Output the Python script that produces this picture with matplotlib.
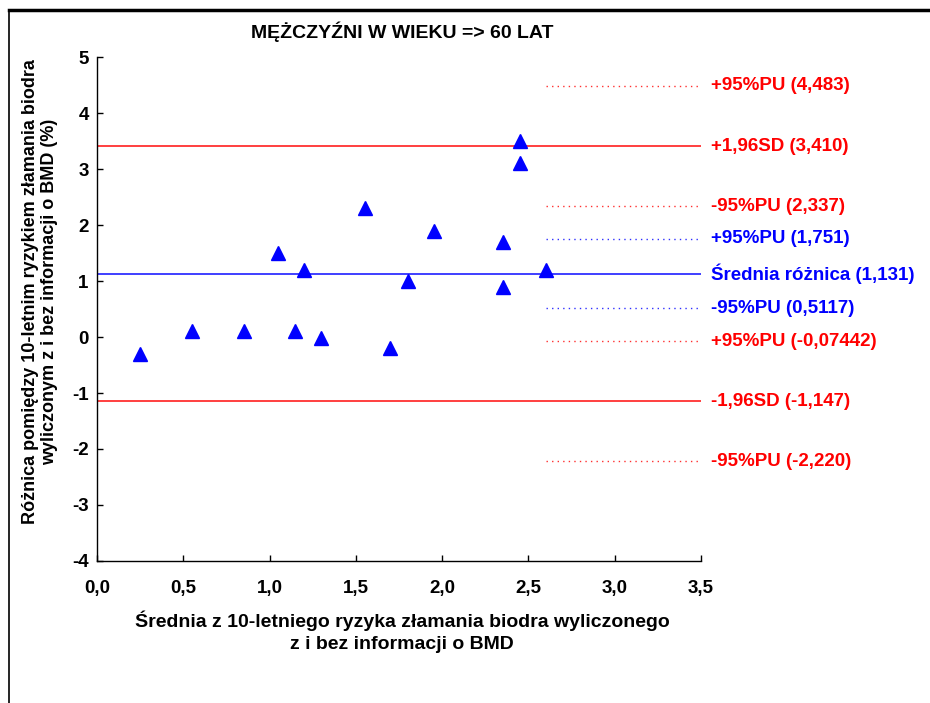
import matplotlib
matplotlib.use("Agg")
import matplotlib.pyplot as plt
from matplotlib.patches import Rectangle

plt.rcParams["axes.unicode_minus"] = False

# średnia i różnica ryzyka (z BMD / bez BMD)
srednia = [0.25, 0.55, 0.85, 1.05, 1.15, 1.20, 1.30, 1.55, 1.70, 1.80,
           1.95, 2.35, 2.35, 2.45, 2.45, 2.60]
roznica = [-0.30, 0.10, 0.10, 1.50, 0.10, 1.20, -0.02, 2.30, -0.20, 1.00,
           1.90, 1.70, 0.90, 3.50, 3.10, 1.20]

# linie odniesienia: wartość, etykieta, kolor, ciągła?
poziomy = [4.483, 3.410, 2.337, 1.751, 1.131, 0.5117, -0.07442, -1.147, -2.220]
etykiety = ["+95%PU (4,483)", "+1,96SD (3,410)", "-95%PU (2,337)",
            "+95%PU (1,751)", "Średnia różnica (1,131)", "-95%PU (0,5117)",
            "+95%PU (-0,07442)", "-1,96SD (-1,147)", "-95%PU (-2,220)"]
kolory = ["red", "red", "red", "blue", "blue", "blue", "red", "red", "red"]
ciagle = [False, True, False, False, True, False, False, True, False]

x_ticks = [0.0, 0.5, 1.0, 1.5, 2.0, 2.5, 3.0, 3.5]
x_labels = ["0,0", "0,5", "1,0", "1,5", "2,0", "2,5", "3,0", "3,5"]
y_ticks = [-4, -3, -2, -1, 0, 1, 2, 3, 4, 5]

ARIAL = ["Liberation Sans", "DejaVu Sans"]

fig = plt.figure(figsize=(9.3, 7.03), dpi=100)
ax = fig.add_axes([0.1043, 0.2020, 0.6495, 0.7169])

# ramka wokół wykresu (prawa i dolna krawędź poza obrazkiem)
fig.patches.append(Rectangle((9 / 930, -0.1), 1.2, 1 - 10 / 703 + 0.1,
                             transform=fig.transFigure, fill=False,
                             edgecolor="black", linewidth=1.2))
fig.add_artist(plt.Line2D([9 / 930, 1.0], [1 - 10 / 703, 1 - 10 / 703],
                          transform=fig.transFigure, color="black", lw=2.5))

for y, lab, c, solid in zip(poziomy, etykiety, kolory, ciagle):
    col = "#ff3030" if c == "red" else "#3030ff"
    if solid:
        ax.hlines(y, 0, 3.5, colors=col, linewidth=1.3)
    else:
        ax.hlines(y, 2.6, 3.5, colors=col, linewidth=1.0, linestyles=(0, (1, 3)))
    ax.text(3.558, y, lab, color=c, fontsize=13.5, fontweight="bold",
            family=ARIAL, va="center", ha="left", clip_on=False)

ax.plot(srednia, roznica, linestyle="none", marker="^", markersize=10,
        color="blue", markeredgecolor="blue", zorder=5)

ax.set_xlim(0, 3.5)
ax.set_ylim(-4, 5)
ax.set_xticks(x_ticks)
ax.set_xticklabels(x_labels)
ax.set_yticks(y_ticks)
for sp in ["top", "right"]:
    ax.spines[sp].set_visible(False)
for sp in ["left", "bottom"]:
    ax.spines[sp].set_linewidth(1.0)
ax.tick_params(direction="in", length=4, width=1, labelsize=13.5)
ax.tick_params(axis="x", pad=14)
ax.tick_params(axis="y", pad=6)
for t in ax.get_xticklabels() + ax.get_yticklabels():
    t.set_family(ARIAL)
    t.set_fontweight("bold")

fig.text(402 / 930, 1 - 32 / 703, "MĘŻCZYŹNI W WIEKU => 60 LAT",
         ha="center", va="center", fontsize=14, fontweight="bold", family=ARIAL)
fig.text(402 / 930, 1 - 632 / 703,
         "Średnia z 10-letniego ryzyka złamania biodra wyliczonego\nz i bez informacji o BMD",
         ha="center", va="center", fontsize=14, fontweight="bold", family=ARIAL,
         linespacing=1.35)
fig.text(40 / 930, 1 - 292 / 703,
         "Różnica pomiędzy 10-letnim ryzykiem złamania biodra\nwyliczonym z i bez informacji o BMD (%)",
         ha="center", va="center", rotation=90, fontsize=13, fontweight="bold",
         family=ARIAL, linespacing=1.15)

fig.savefig("out.png", dpi=100)
